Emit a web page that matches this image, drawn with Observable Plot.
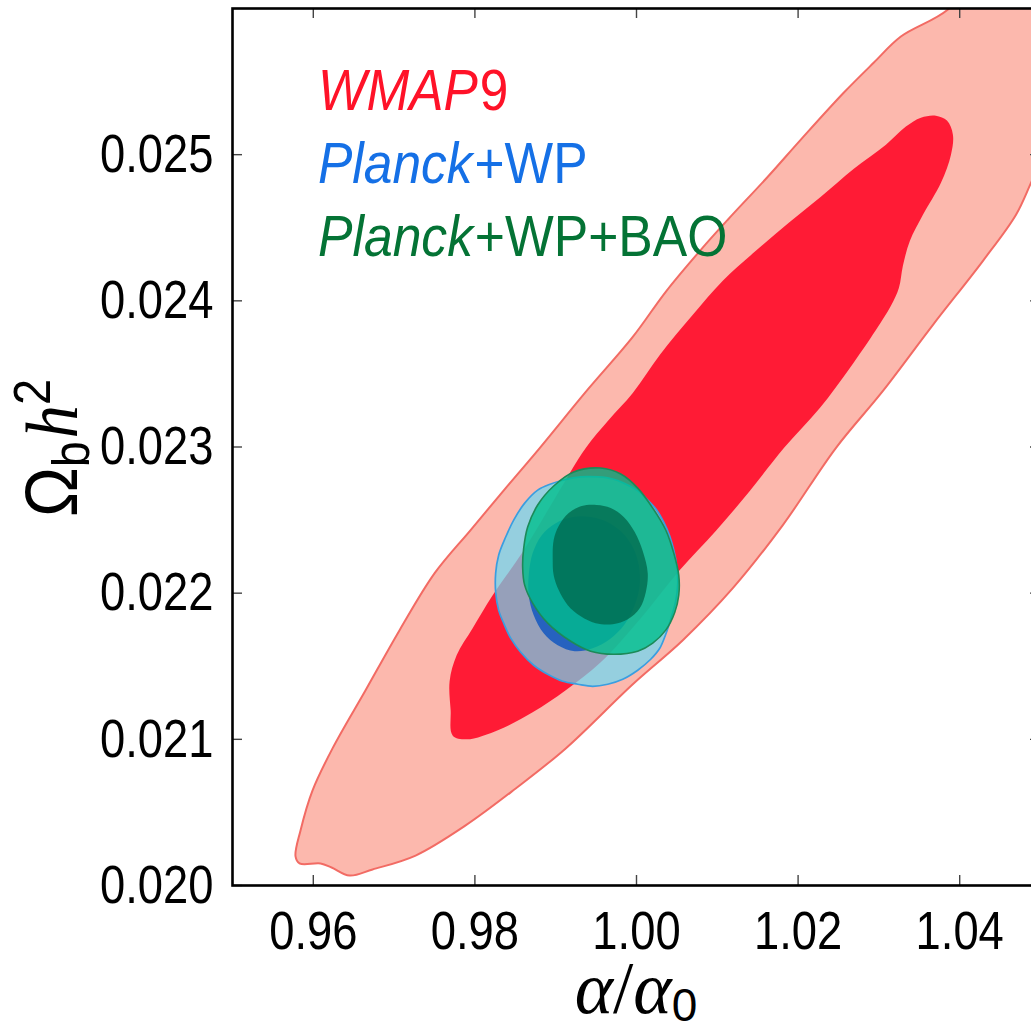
<!DOCTYPE html>
<html>
<head>
<meta charset="utf-8">
<script src="https://cdn.jsdelivr.net/npm/d3@7"></script>
<script src="https://cdn.jsdelivr.net/npm/@observablehq/plot@0.6"></script>
<style>
html,body{margin:0;padding:0;background:#fff;overflow:hidden;width:1031px;height:1029px}
#chart{position:relative;width:1031px;height:1029px;overflow:hidden}
</style>
</head>
<body>
<div id="chart"></div>
<script>
const SANS = "'Liberation Sans','Arial',sans-serif";
const SERIF = "'Liberation Serif','DejaVu Serif',serif";

// axis ticks
const xTicks = [0.96, 0.98, 1.00, 1.02, 1.04];
const xTickLabels = ["0.96", "0.98", "1.00", "1.02", "1.04"];
const yTicks = [0.020, 0.021, 0.022, 0.023, 0.024, 0.025];
const yTickLabels = ["0.020", "0.021", "0.022", "0.023", "0.024", "0.025"];

// legend
const legendItalic = ["WMAP", "Planck", "Planck"];
const legendRest = ["9", "+WP", "+WP+BAO"];
const legendColors = ["#ff1228", "#1570e6", "#047335"];

// WMAP9 outer (95%) contour
const wmapOuterX = [0.95780,0.95830,0.96090,0.96226,0.96449,0.96734,0.97266,0.97885,0.98505,0.99124,0.99954,1.00573,1.01192,1.01811,1.02467,1.03050,1.03669,1.04288,1.04697,1.04895,1.05105,1.05279,1.05353,1.05254,1.04387,1.03855,1.03272,1.02938,1.02567,1.02034,1.01625,1.01130,1.00796,1.00362,0.99954,0.99372,0.98802,0.98381,0.97947,0.97502,0.97068,0.96647,0.96238,0.95991,0.95842];
const wmapOuterY = [0.020199,0.020151,0.020151,0.020123,0.020068,0.020110,0.020205,0.020411,0.020664,0.020938,0.021377,0.021678,0.022034,0.022466,0.022993,0.023384,0.023836,0.024274,0.024589,0.024822,0.025068,0.025445,0.025925,0.026267,0.026336,0.025993,0.025808,0.025630,0.025425,0.025103,0.024849,0.024555,0.024349,0.024062,0.023753,0.023377,0.022993,0.022719,0.022432,0.022137,0.021747,0.021336,0.020938,0.020651,0.020377];

// WMAP9 inner (68%) contour
const wmapInnerX = [0.97724,0.97898,0.98306,0.98715,0.99124,0.99557,1.00053,1.00536,1.00981,1.01402,1.01824,1.02269,1.02641,1.02963,1.03149,1.03248,1.03297,1.03384,1.03545,1.03768,1.03892,1.03916,1.03842,1.03706,1.03520,1.03334,1.03087,1.02690,1.02282,1.01885,1.01477,1.01068,1.00697,1.00288,0.99954,0.99656,0.99372,0.99000,0.98591,0.98220,0.97972,0.97774,0.97687,0.97700];
const wmapInnerY = [0.021027,0.021000,0.021068,0.021185,0.021336,0.021527,0.021829,0.022158,0.022425,0.022699,0.022993,0.023267,0.023541,0.023801,0.023966,0.024089,0.024240,0.024411,0.024589,0.024808,0.025000,0.025137,0.025233,0.025267,0.025253,0.025192,0.025068,0.024904,0.024712,0.024534,0.024342,0.024137,0.023904,0.023630,0.023370,0.023185,0.022993,0.022658,0.022281,0.021986,0.021760,0.021575,0.021397,0.021199];

// Planck+WP outer contour
const wpOuterX = [0.98257,0.98294,0.98381,0.98480,0.98616,0.98777,0.98938,0.99099,0.99310,0.99520,0.99706,0.99842,1.00003,1.00139,1.00251,1.00337,1.00412,1.00461,1.00498,1.00511,1.00486,1.00424,1.00362,1.00288,1.00176,1.00015,0.99830,0.99644,0.99458,0.99272,0.99087,0.98901,0.98728,0.98567,0.98443,0.98356,0.98294,0.98257];
const wpOuterY = [0.022137,0.022260,0.022384,0.022500,0.022616,0.022705,0.022747,0.022774,0.022795,0.022795,0.022781,0.022753,0.022705,0.022637,0.022568,0.022486,0.022390,0.022295,0.022185,0.022068,0.021945,0.021822,0.021719,0.021623,0.021548,0.021473,0.021411,0.021377,0.021363,0.021377,0.021397,0.021445,0.021507,0.021596,0.021692,0.021795,0.021884,0.022007];

// Planck+WP inner contour
const wpInnerX = [0.98666,0.98715,0.98827,0.99000,0.99211,0.99433,0.99644,0.99817,0.99954,1.00028,1.00040,0.99978,0.99854,0.99669,0.99458,0.99235,0.99025,0.98851,0.98728,0.98666];
const wpInnerY = [0.022123,0.022274,0.022397,0.022479,0.022521,0.022521,0.022486,0.022418,0.022315,0.022192,0.022055,0.021918,0.021788,0.021685,0.021623,0.021603,0.021644,0.021726,0.021849,0.021986];

// Planck+WP+BAO outer contour
const baoOuterX = [0.98591,0.98604,0.98653,0.98777,0.98975,0.99223,0.99557,0.99805,1.00015,1.00201,1.00362,1.00461,1.00523,1.00523,1.00474,1.00362,1.00201,1.00015,0.99718,0.99433,0.99186,0.98901,0.98715,0.98616];
const baoOuterY = [0.022178,0.022308,0.022452,0.022603,0.022733,0.022829,0.022856,0.022815,0.022719,0.022582,0.022432,0.022274,0.022123,0.021986,0.021870,0.021747,0.021658,0.021603,0.021582,0.021603,0.021671,0.021795,0.021932,0.022055];

// Planck+WP+BAO inner contour
const baoInnerX = [0.98963,0.98975,0.99037,0.99161,0.99322,0.99508,0.99681,0.99842,0.99978,1.00077,1.00139,1.00115,1.00040,0.99892,0.99706,0.99495,0.99310,0.99149,0.99037,0.98975];
const baoInnerY = [0.022226,0.022363,0.022459,0.022548,0.022596,0.022603,0.022582,0.022521,0.022418,0.022288,0.022137,0.022007,0.021897,0.021822,0.021788,0.021795,0.021842,0.021918,0.022021,0.022123];

const contours = [
  {xs: wmapOuterX, ys: wmapOuterY, fill: "#fcb8ad", fo: 1, stroke: "#f26b64", sw: 2},
  {xs: wmapInnerX, ys: wmapInnerY, fill: "#ff1b35", fo: 1, stroke: "none", sw: 0},
  {xs: wpOuterX, ys: wpOuterY, fill: "#6ad9f3", fo: 0.7, stroke: "#3a9ee0", sw: 1.7},
  {xs: wpInnerX, ys: wpInnerY, fill: "#004dc0", fo: 0.75, stroke: "none", sw: 0},
  {xs: baoOuterX, ys: baoOuterY, fill: "#00be8c", fo: 0.8, stroke: "#1c8a58", sw: 1.6},
  {xs: baoInnerX, ys: baoInnerY, fill: "#00664a", fo: 0.75, stroke: "none", sw: 0}
];

const contourMarks = contours.map(c => Plot.line(
  c.xs.map((x, i) => ({x, y: c.ys[i]})),
  {x: "x", y: "y", curve: "catmull-rom-closed", fill: c.fill, fillOpacity: c.fo,
   stroke: c.stroke, strokeWidth: c.sw, clip: true}
));

// frame geometry (pixels)
const W = 1042, H = 1029, ML = 232, MR = 2, MT = 8, MB = 144;
const frameW = W - ML - MR, frameH = H - MT - MB, tickLen = 10;
const tickStyle = {stroke: "#444", strokeWidth: 1.4};

const chart = Plot.plot({
  width: W,
  height: H,
  marginLeft: ML,
  marginRight: MR,
  marginTop: MT,
  marginBottom: MB,
  style: {maxWidth: "none", background: "white", color: "black"},
  x: {domain: [0.95, 1.05]},
  y: {domain: [0.020, 0.026]},
  marks: [
    ...contourMarks,
    // inward-pointing ticks on all four sides
    Plot.tickX(xTicks, {x: d => d, insetTop: frameH - tickLen, ...tickStyle}),
    Plot.tickX(xTicks, {x: d => d, insetBottom: frameH - tickLen, ...tickStyle}),
    Plot.tickY(yTicks, {y: d => d, insetRight: frameW - tickLen, ...tickStyle}),
    Plot.tickY(yTicks, {y: d => d, insetLeft: frameW - tickLen, ...tickStyle}),
    Plot.axisX(xTicks, {anchor: "bottom", tickSize: 0, tickPadding: 25, label: null,
      tickFormat: d => xTickLabels[xTicks.indexOf(d)], fontSize: 54, fontFamily: SANS, fill: "black"}),
    Plot.axisY(yTicks, {anchor: "left", tickSize: 0, tickPadding: 19, label: null,
      tickFormat: d => yTickLabels[yTicks.indexOf(d)], fontSize: 54, fontFamily: SANS, fill: "black"}),
    Plot.frame({stroke: "black", strokeWidth: 2.6})
  ]
});

document.getElementById("chart").appendChild(chart);

const svg = d3.select(chart);

// condense a text element horizontally (narrow sans look of the original)
function condense(el, s) {
  const w = el.getComputedTextLength();
  if (w > 0) {
    el.setAttribute("textLength", (w * s).toFixed(1));
    el.setAttribute("lengthAdjust", "spacingAndGlyphs");
  }
}
svg.selectAll('g[aria-label="x-axis tick label"] text, g[aria-label="y-axis tick label"] text')
  .each(function() { condense(this, 0.84); });

// legend (inside the axes, top-left)
const leg = svg.append("g").attr("font-family", SANS).attr("font-size", 57).attr("text-anchor", "start");
legendItalic.forEach((it, i) => {
  const t = leg.append("text").attr("x", 318).attr("y", 110 + i * 73).attr("fill", legendColors[i]);
  t.append("tspan").attr("font-style", "italic").text(it);
  t.append("tspan").attr("dx", 2).text(legendRest[i]);
  condense(t.node(), 0.91);
});

// x-axis label: α/α0
const xl = svg.append("text")
  .attr("x", 636).attr("y", 1013)
  .attr("text-anchor", "middle")
  .attr("font-size", 73)
  .attr("font-family", SERIF)
  .attr("fill", "black");
xl.append("tspan").attr("font-style", "italic").text("α");
xl.append("tspan").text("/");
xl.append("tspan").attr("font-style", "italic").text("α");
xl.append("tspan").attr("font-family", SANS).attr("font-size", 46).attr("dy", 8).text("0");

// y-axis label: Ω_b h^2
const yl = svg.append("text")
  .attr("transform", "translate(77,448) rotate(-90)")
  .attr("text-anchor", "middle")
  .attr("font-size", 74)
  .attr("fill", "black");
yl.append("tspan").attr("font-family", SANS).text("Ω");
yl.append("tspan").attr("font-family", SANS).attr("font-size", 52).attr("dy", 12).text("b");
yl.append("tspan").attr("font-family", SERIF).attr("font-style", "italic").attr("dy", -12).attr("dx", 3).text("h");
yl.append("tspan").attr("font-family", SANS).attr("font-size", 52).attr("dy", -27).text("2");
condense(yl.node(), 0.92);
</script>
</body>
</html>
